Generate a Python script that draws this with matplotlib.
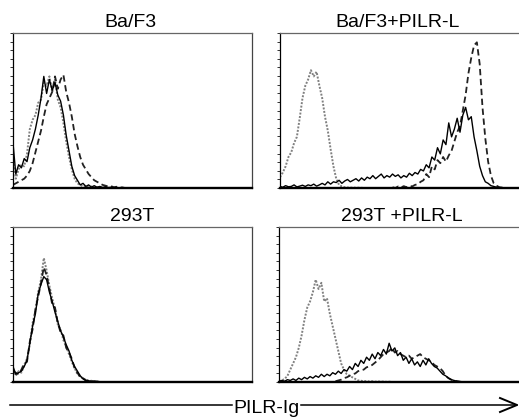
import numpy as np
import matplotlib
matplotlib.use("Agg")
import matplotlib.pyplot as plt

plt.rcParams['font.family'] = ['Liberation Sans', 'DejaVu Sans']

# ---------------- data (channel step 3, counts as % of panel height) -------------
STEP = 3
titles = ["Ba/F3", "Ba/F3+PILR-L", "293T", "293T +PILR-L"]
xlabel = "PILR-Ig"

# Ba/F3
tl_dotted_start = 0
tl_dotted = [20, 6, 12, 15, 14, 22, 38, 44, 47, 55, 57, 68, 66, 72, 62, 70, 57, 52, 42, 30,
             20, 12, 6, 3, 2, 1, 1.5, 0.5, 1, 0.3, 0.5, 0.2, 0.4, 0.1, 0.2, 0, 0]
tl_dashed_start = 0
tl_dashed = [2, 3, 4, 5, 6, 8, 11, 16, 23, 30, 37, 46, 54, 58, 62, 72, 64, 70, 73, 62,
             55, 46, 35, 27, 20, 15, 12, 9, 7, 5, 4, 3, 2, 1.5, 1, 1.2, 0.5, 0.8, 0.3, 0.4, 0]
tl_solid_start = 0
tl_solid = [29, 9, 15, 13, 19, 17, 26, 31, 38, 47, 58, 72, 61, 70, 63, 68, 60, 56, 47, 34,
            24, 14, 8, 5, 2, 3, 1, 2, 0.5, 1.5, 0.5, 1, 0.3, 0.8, 0.2, 0.5, 0.2, 0.3, 0, 0.2, 0]

# Ba/F3+PILR-L
tr_dotted_start = 0
tr_dotted = [7, 10, 14, 20, 23, 29, 33, 45, 58, 66, 70, 76, 72, 75, 66, 58, 46, 37, 25, 14,
             6, 2, 1, 0.5, 0.3, 0.2, 0.3, 0.1, 0.2, 0.1, 0]
tr_dashed_start = 120
tr_dashed = [0.5, 0, 1, 0.3, 1.2, 0.5, 1.5, 1, 2, 2.5, 4, 5, 9, 7, 14, 12, 18, 16, 20, 17,
             21, 24, 30, 36, 40, 50, 60, 74, 84, 92, 94, 80, 52, 32, 17, 8, 3, 1.5, 0.5, 0.3, 0]
tr_solid_start = 0
tr_solid = [1, 0.5, 1.5, 0.8, 1, 2, 0.7, 1.2, 1.8, 1, 2, 1.5, 2.5, 1.2, 2, 3, 2, 4, 2.5, 4,
            3.5, 5, 3, 4.5, 5.5, 4, 5, 6, 4.5, 6.5, 5, 7, 6, 8, 6, 7.5, 9, 6.5, 8, 7,
            9, 7.5, 8.5, 6.5, 8, 7, 9.5, 8, 10, 9, 12, 11, 15, 13, 20, 18, 26, 22, 31, 28,
            42, 33, 38, 45, 36, 47, 52, 44, 46, 33, 24, 14, 8, 4, 3, 1.5, 1, 0.5, 0.3, 0, 0]

# 293T
bl_dotted_start = 0
bl_dotted = [8, 4, 7, 6, 11, 15, 24, 38, 46, 58, 66, 80, 72, 62, 54, 47, 37, 34, 27, 23,
             18, 13, 9, 5, 4, 2, 1.5, 0.5, 0.8, 0.3, 0.2, 0]
bl_dashed_start = 0
bl_dashed = [7, 6, 5, 8, 12, 13, 26, 34, 47, 55, 64, 74, 69, 60, 50, 48, 38, 32, 30, 22,
             19, 15, 9, 6, 3, 2.5, 1, 1, 0.4, 0.5, 0.2, 0]
bl_solid_start = 0
bl_solid = [10, 5, 6, 7, 10, 14, 25, 36, 44, 57, 63, 68, 66, 58, 52, 45, 39, 33, 29, 24,
            20, 14, 10, 7, 4, 2, 1, 0.8, 0.5, 0.3, 0.4, 0.2, 0, 0.2, 0]

# 293T+PILR-L
br_dotted_start = 0
br_dotted = [0.5, 1, 2, 4, 8, 12, 16, 22, 30, 40, 48, 52, 58, 66, 60, 64, 52, 54, 44, 36,
             28, 20, 12, 8, 5, 4, 3, 2, 1, 0.8, 0.5, 0.6, 0.3, 0.5, 0.2, 0.4, 0.2, 0.3, 0.1, 0.2, 0]
br_dashed_start = 60
br_dashed = [0.5, 1, 1.5, 2.5, 3, 4, 5, 5.5, 7, 7.5, 8, 9.5, 10, 11, 12.5, 14, 16, 18, 19, 20,
             22, 19, 20, 18, 17, 16, 17, 15, 16, 17, 18, 16, 15, 14, 13, 11, 10, 9, 7, 4,
             2.5, 1.5, 1, 0.5, 0.2, 0]
br_solid_start = 0
br_solid = [0.5, 1, 0.5, 1.5, 1, 2, 1, 2.5, 1.5, 3, 2, 3.5, 2.5, 4, 3, 5, 3.5, 5, 4, 6,
            5, 7, 5.5, 8, 7, 10, 8, 12, 10, 14, 12, 16, 14, 18, 15, 19, 17, 21, 18, 25,
            20, 22, 17, 19, 14, 16, 12, 15, 11, 13, 10, 14, 11, 15, 12, 10, 9, 7, 5, 4,
            2.5, 1.5, 1, 0.5, 0.3, 0]

panels = [
    [(tl_dotted_start, tl_dotted), (tl_dashed_start, tl_dashed), (tl_solid_start, tl_solid)],
    [(tr_dotted_start, tr_dotted), (tr_dashed_start, tr_dashed), (tr_solid_start, tr_solid)],
    [(bl_dotted_start, bl_dotted), (bl_dashed_start, bl_dashed), (bl_solid_start, bl_solid)],
    [(br_dotted_start, br_dotted), (br_dashed_start, br_dashed), (br_solid_start, br_solid)],
]

# ---------------- figure ---------------
W, H = 519, 418
fig = plt.figure(figsize=(W / 100, H / 100), dpi=100)

# pixel boxes: left, top, right, bottom
boxes = [(13, 33, 252, 188), (280, 33, 520, 188), (13, 227, 252, 382), (279, 227, 520, 382)]
title_pos = [(130, 27), (398, 27), (132, 221), (402, 221)]

styles = [dict(color='#808080', ls=(0, (1, 0.8)), lw=1.4),
          dict(color='#222222', ls=(0, (3.5, 2)), lw=1.3),
          dict(color='black', ls='-', lw=1.0)]

for i, (box, series) in enumerate(zip(boxes, panels)):
    l, t, r, b = box
    ax = fig.add_axes([l / W, 1 - b / H, (r - l) / W, (b - t) / H])
    for (start, vals), st in zip(series, styles):
        x = start + STEP * np.arange(len(vals))
        ax.plot(x, vals, **st)
    ax.set_xlim(0, 256)
    ax.set_ylim(0, 100)
    ax.set_xticks([])
    ax.set_yticks(np.linspace(0, 100, 19))
    ax.set_yticklabels([])
    ax.tick_params(axis='y', direction='out', length=2.2, width=0.7, color='#333333')
    ax.spines['bottom'].set_linewidth(1.7)
    ax.spines['bottom'].set_color('black')
    ax.spines['left'].set_linewidth(0.9)
    ax.spines['top'].set_linewidth(0.9)
    ax.spines['top'].set_color('#666666')
    ax.spines['right'].set_linewidth(0.9)
    ax.spines['right'].set_color('#444444')
    tx, ty = title_pos[i]
    fig.text(tx / W, 1 - ty / H, titles[i], ha='center', va='baseline', fontsize=14)

# arrow overlay in pixel coordinates
ov = fig.add_axes([0, 0, 1, 1])
ov.set_xlim(0, W)
ov.set_ylim(H, 0)
ov.axis('off')
ov.plot([10, 232], [405, 405], color='black', lw=1.1)
ov.plot([301, 517], [405, 405], color='black', lw=1.1)
ov.plot([500, 517, 500], [398, 405, 412], color='black', lw=1.4)
ov.text(266.5, 413, xlabel, ha='center', va='baseline', fontsize=14)

fig.savefig("out.png", dpi=100)
